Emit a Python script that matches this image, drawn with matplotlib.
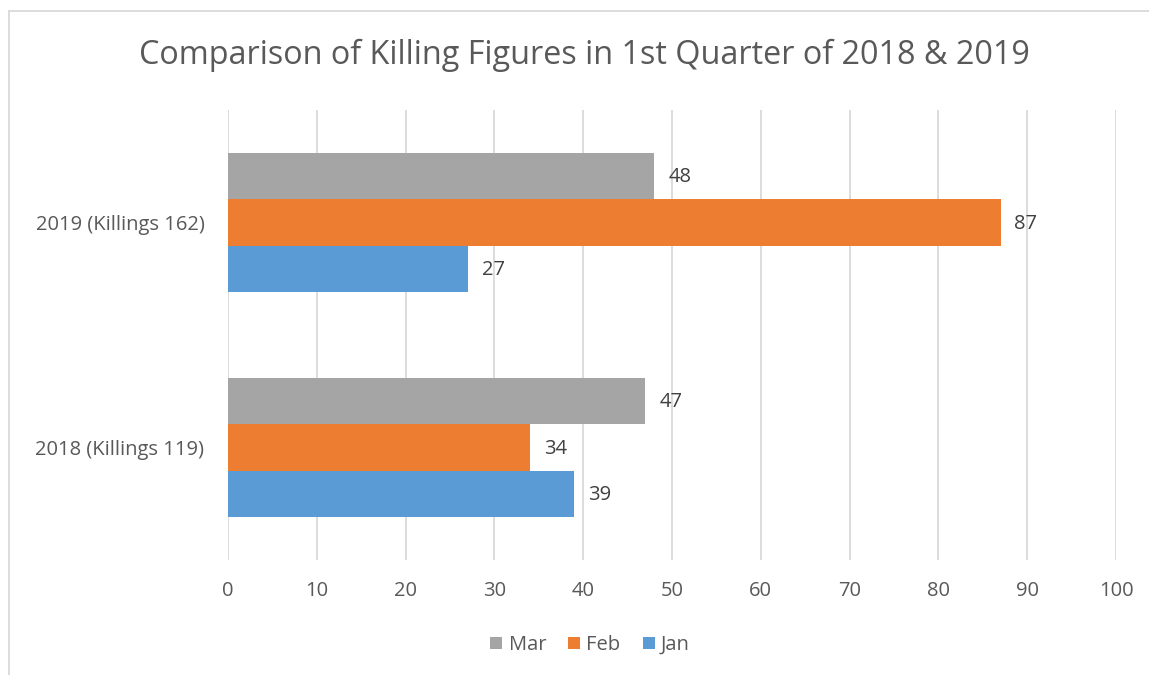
import matplotlib
matplotlib.use("Agg")
import matplotlib.pyplot as plt
import numpy as np
from matplotlib.lines import Line2D
from matplotlib.patches import Patch

categories = ["2018 (Killings 119)", "2019 (Killings 162)"]
jan = [39, 27]
feb = [34, 87]
mar = [47, 48]
months = ["Mar", "Feb", "Jan"]
xticks = [0, 10, 20, 30, 40, 50, 60, 70, 80, 90, 100]
title = "Comparison of Killing Figures in 1st Quarter of 2018 & 2019"

plt.rcParams['font.family'] = ['Open Sans', 'DejaVu Sans']

W, H = 1149, 675
fig = plt.figure(figsize=(W / 100, H / 100), dpi=100)
ax = fig.add_axes([228 / W, 1 - 560 / H, (1116 - 228) / W, (560 - 110) / H])

c_jan, c_feb, c_mar = "#5B9BD5", "#ED7D31", "#A5A5A5"
y = np.arange(len(categories))
h = 46.5 / 225
series = [(jan, c_jan, -h), (feb, c_feb, 0), (mar, c_mar, h)]
for vals, col, off in series:
    bars = ax.barh(y + off, vals, height=h, color=col, zorder=3)
    for b, v in zip(bars, vals):
        ax.annotate(str(v), (v, b.get_y() + b.get_height() / 2), xytext=(10, -1),
                    textcoords="offset points", va="center", ha="left",
                    fontsize=14.5, color="#404040")

ax.set_xlim(0, 100)
ax.set_ylim(-0.5, 1.5)
ax.set_xticks(xticks)
ax.set_xticklabels([str(t) for t in xticks])
ax.set_yticks(y)
ax.set_yticklabels(categories)
ax.grid(axis="x", color="#D9D9D9", linewidth=1.3, zorder=0)
for s in ax.spines.values():
    s.set_visible(False)
ax.tick_params(axis="both", length=0, labelsize=14.5, labelcolor="#595959")
ax.tick_params(axis="x", pad=15)
ax.tick_params(axis="y", pad=17)

fig.text(584 / W, 1 - 55 / H, title, ha="center", va="center",
         fontsize=23.3, color="#595959")

handles = [Patch(facecolor=c_mar), Patch(facecolor=c_feb), Patch(facecolor=c_jan)]
fig.legend(handles, months, loc="center", bbox_to_anchor=(590 / W, 1 - 645 / H),
           ncol=3, frameon=False, fontsize=14.5, handlelength=0.6, handleheight=0.6,
           handletextpad=0.3, columnspacing=1.1, labelcolor="#595959")

# chart frame (left and top edges visible)
fig.add_artist(Line2D([9 / W, 9 / W], [0, 1 - 11 / H], color="#D9D9D9", lw=1.3,
                      transform=fig.transFigure))
fig.add_artist(Line2D([9 / W, 1], [1 - 11 / H, 1 - 11 / H], color="#D9D9D9", lw=1.3,
                      transform=fig.transFigure))

fig.savefig("out.png", dpi=100)
